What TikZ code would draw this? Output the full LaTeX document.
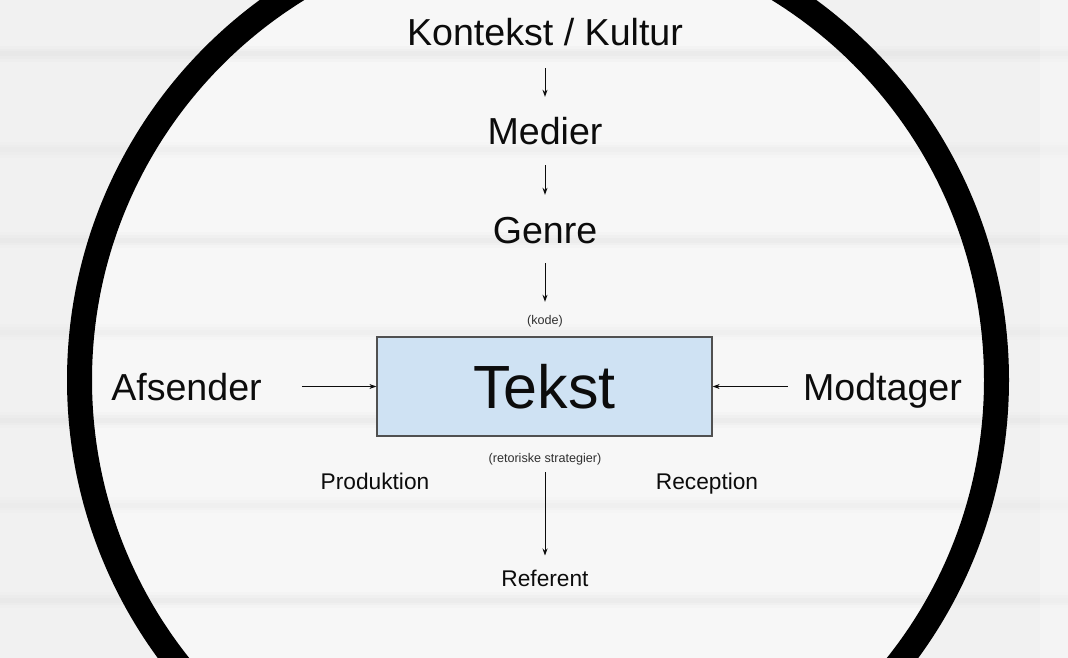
\documentclass[tikz,border=0pt]{standalone}
\usepackage{fontspec}
\setmainfont{Liberation Sans}
\usetikzlibrary{arrows.meta}
\definecolor{bg}{RGB}{241,241,241}
\definecolor{bginner}{RGB}{247,247,247}
\definecolor{band}{RGB}{222,222,222}
\definecolor{boxfill}{RGB}{207,226,243}
\definecolor{boxline}{RGB}{80,80,80}
\definecolor{ink}{RGB}{12,12,12}
\tikzset{
  big/.style={inner sep=0pt, anchor=base, font=\fontsize{37.6}{40}\selectfont, text height=27pt, text depth=0pt, text=ink},
  mid/.style={inner sep=0pt, anchor=base, font=\fontsize{22.7}{25}\selectfont, text height=16.3pt, text depth=0pt, text=ink},
  small/.style={inner sep=0pt, anchor=base, font=\fontsize{12.6}{14}\selectfont, text height=9pt, text depth=0pt, text=ink!85},
  textbox/.style={draw=boxline, line width=1.3pt, fill=boxfill, minimum width=335pt, minimum height=99pt, inner sep=0pt,
     font=\fontsize{61}{63}\selectfont, text height=43.5pt, text depth=0pt, text=ink},
  conn/.style={draw=ink, line width=0.9pt, -{Stealth[length=7pt,width=5pt]}},
}
\begin{document}
\begin{tikzpicture}[x=1pt,y=-1pt]
\useasboundingbox (0,0) rectangle (1068,658);
% background
\fill[bg] (0,0) rectangle (1068,658);
\fill[bginner] (538,380) circle (458);
\foreach \yy/\oo in {54/1, 150/0.5, 240/0.8, 332/0.5, 420/0.8, 505/0.6, 600/0.8}{
  \fill[band, opacity=0.12*\oo] (0,\yy-8) rectangle (1068,\yy+8);
  \fill[band, opacity=0.18*\oo] (0,\yy-5) rectangle (1068,\yy+5);
  \fill[band, opacity=0.22*\oo] (0,\yy-2.5) rectangle (1068,\yy+2.5);
}
\fill[white, opacity=0.25] (1040,0) rectangle (1068,658);
% big circle
\begin{scope}
\clip (0,0) rectangle (1068,658);
\draw[black, line width=25pt] (538,380) circle (458.5);
\end{scope}
% nodes
\node[big] (kk) at (545,46) {Kontekst / Kultur};
\node[big] (me) at (545,145) {Medier};
\node[big] (ge) at (545,243) {Genre};
\node[small] (ko) at (545,324) {(kode)};
\node[textbox] (tx) at (544.5,386.5) {Tekst};
\node[big] (af) at (186.5,400) {Afsender};
\node[big] (mo) at (882.5,400) {Modtager};
\node[small] (rs) at (545,462) {(retoriske strategier)};
\node[mid] (pr) at (375,489) {Produktion};
\node[mid] (re) at (707,489) {Reception};
\node[mid] (rf) at (545,586) {Referent};
% connectors
\draw[conn, shorten <=22pt, shorten >=21pt] (kk.south) -- (me.north);
\draw[conn, shorten <=20pt, shorten >=21pt] (me.south) -- (ge.north);
\draw[conn, shorten <=20pt, shorten >=13pt] (ge.south) -- (ko.north);
\draw[conn, shorten <=40pt] (af.east) -- (tx.west);
\draw[conn, shorten <=15pt] (mo.west) -- (tx.east);
\draw[conn, shorten <=10pt, shorten >=14pt] (rs.south) -- (rf.north);
\end{tikzpicture}
\end{document}
